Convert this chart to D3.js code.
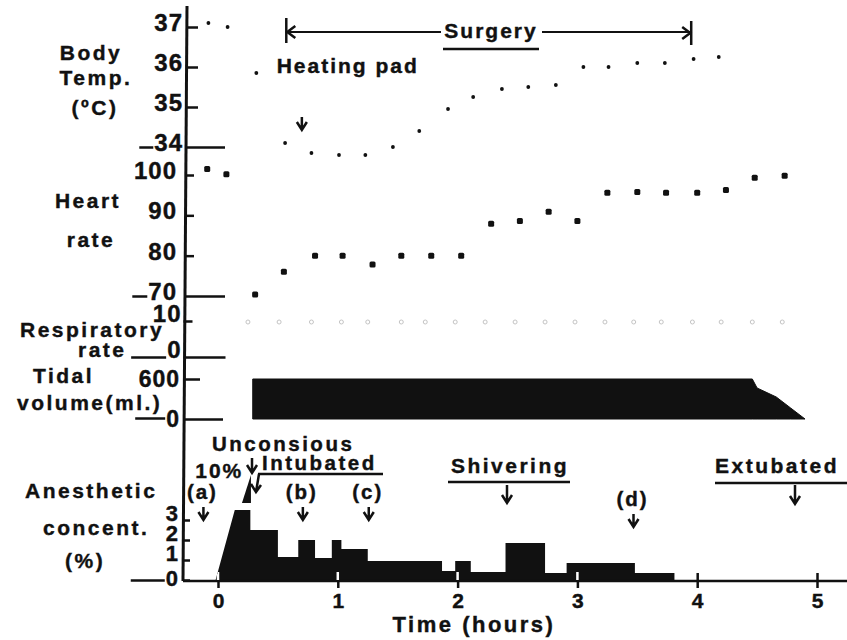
<!DOCTYPE html>
<html>
<head>
<meta charset="utf-8">
<script src="https://cdn.jsdelivr.net/npm/d3@7"></script>
<style>
body { margin: 0; background: #fff; }
svg text { font-family: "Liberation Sans", Arial, Helvetica, sans-serif; font-weight: bold; fill: #111; stroke: #111; stroke-width: 0.4px; }
</style>
</head>
<body>
<div id="chart"></div>
<script>
// values, time in hours after induction
var tempTimes = [-0.08, 0.08, 0.32, 0.56, 0.78, 1.01, 1.23, 1.46, 1.68, 1.92, 2.13, 2.37, 2.59, 2.82, 3.05, 3.26, 3.5, 3.73, 3.97, 4.18];
var tempValues = [37.1, 37.0, 35.85, 34.1, 33.85, 33.8, 33.8, 34.0, 34.4, 34.95, 35.25, 35.45, 35.5, 35.55, 36.0, 36.0, 36.1, 36.1, 36.2, 36.25];

var heartTimes = [-0.09, 0.07, 0.31, 0.55, 0.81, 1.04, 1.29, 1.53, 1.78, 2.03, 2.28, 2.52, 2.76, 3.0, 3.25, 3.5, 3.74, 4.0, 4.24, 4.48, 4.73];
var heartValues = [101.5, 100.2, 70.4, 76, 80, 80, 77.8, 80, 80, 80, 87.9, 88.6, 90.9, 88.6, 95.6, 95.8, 95.6, 95.6, 96.3, 99.3, 99.8];

var respTimes = [0.25, 0.51, 0.78, 1.03, 1.25, 1.53, 1.73, 1.98, 2.23, 2.48, 2.73, 2.98, 3.23, 3.47, 3.7, 3.96, 4.2, 4.46, 4.71];
var respValues = [10, 10, 10, 10, 10, 10, 10, 10, 10, 10, 10, 10, 10, 10, 10, 10, 10, 10, 10];

var tidalTimes = [0.29, 4.46, 4.5, 4.66, 4.78, 4.9];
var tidalValues = [600, 600, 465, 330, 165, 0];

var anesStart = -0.02;
var anesStepTimes = [0.14, 0.27, 0.5, 0.67, 0.81, 0.95, 1.03, 1.25, 1.87, 1.98, 2.11, 2.4, 2.73, 2.91, 3.48, 3.81];
var anesStepValues = [3.5, 2.5, 1.15, 2.0, 1.1, 2.0, 1.55, 0.95, 0.45, 0.95, 0.4, 1.85, 0.35, 0.85, 0.35];
// the 10% spike, drawn off scale above the plateau
var spikeTimes = [0.2, 0.275, 0.275];
var spikeValues = [3.85, 5.25, 3.85];

var hourTicks = [0, 1, 2, 3, 4, 5];
var tempTicks = [34, 35, 36, 37];
var heartTicks = [70, 80, 90, 100];
var respTicks = [0, 10];
var tidalTicks = [0, 600];
var anesTicks = [0, 1, 2, 3];

var surgeryTimes = [0.57, 3.95];
var eventNames = ["(a)", "(b)", "(c)", "(d)"];
var eventTimes = [-0.13, 0.7, 1.25, 3.46];

const WIDTH = 847;
const HEIGHT = 640;
const BASE_Y = 581;

var svg = d3.select("#chart").append("svg")
    .attr("width", WIDTH)
    .attr("height", HEIGHT);
svg.append("rect").attr("width", WIDTH).attr("height", HEIGHT).attr("fill", "#fff");

var x = d3.scaleLinear().domain([0, 5]).range([218, 817]);
var yTemp = d3.scaleLinear().domain([34, 37]).range([147, 27]);
var yHeart = d3.scaleLinear().domain([70, 100]).range([296, 175]);
var yResp = d3.scaleLinear().domain([0, 10]).range([357, 321]);
var yTidal = d3.scaleLinear().domain([0, 600]).range([419, 379]);
var yAnes = d3.scaleLinear().domain([0, 3]).range([580, 520]);

function zip(ts, vs) {
    return ts.map(function(t, i) { return {t: t, v: vs[i]}; });
}

function text(str, xp, yp, opts) {
    opts = opts || {};
    return svg.append("text")
        .attr("x", xp).attr("y", yp)
        .attr("text-anchor", opts.anchor || "start")
        .attr("font-size", opts.size || 21)
        .attr("letter-spacing", opts.ls == null ? 2.5 : opts.ls)
        .text(str);
}

function line(x1, y1, x2, y2, w) {
    return svg.append("line")
        .attr("x1", x1).attr("y1", y1).attr("x2", x2).attr("y2", y2)
        .attr("stroke", "#111").attr("stroke-width", w || 2.5);
}

function arrowDown(xp, y1, y2) {
    svg.append("path")
        .attr("d", "M" + xp + "," + y1 + "V" + y2 + "M" + (xp - 5) + "," + (y2 - 8) + "L" + xp + "," + y2 + "L" + (xp + 5) + "," + (y2 - 8))
        .attr("fill", "none").attr("stroke", "#111").attr("stroke-width", 2.5);
}

// one left axis per panel, labels left of the line, ticks to the right
function panelAxis(scale, ticks, o) {
    var g = svg.append("g").attr("transform", "translate(" + o.axisX + ",0)");
    g.call(d3.axisLeft(scale).tickValues(ticks).tickSize(-o.tick).tickPadding(o.pad).tickFormat(d3.format("d")));
    g.select(".domain").remove();
    g.selectAll(".tick line").attr("stroke", "#111").attr("stroke-width", 2.5);
    g.selectAll(".tick text")
        .attr("font-size", o.size)
        .attr("letter-spacing", 1)
        .attr("dy", function(d) { return d === ticks[0] && o.dy0 ? o.dy0 : o.dy; });
    var bottom = g.selectAll(".tick").filter(function(d) { return d === ticks[0]; });
    if (o.long) bottom.select("line").attr("x2", o.long);
    // the dash that separates the panels on the label side
    var bb = bottom.select("text").node().getBBox();
    bottom.append("line")
        .attr("x1", bb.x - o.dash).attr("x2", bb.x - 1)
        .attr("y1", o.dashY || 0).attr("y2", o.dashY || 0)
        .attr("stroke", "#111").attr("stroke-width", 2.5);
}

panelAxis(yTemp, tempTicks, {axisX: 187, tick: 11, long: 38, pad: 4, size: 24, dy: "0.14em", dash: 15});
panelAxis(yHeart, heartTicks, {axisX: 186, tick: 8, long: 39, pad: 9, size: 24, dy: "0.14em", dash: 16});
panelAxis(yResp, respTicks, {axisX: 183.5, tick: 9, long: 42, pad: 2, size: 24, dy: "0em", dash: 36});
panelAxis(yTidal, tidalTicks, {axisX: 183, tick: 17, long: 40, pad: 3, size: 23, dy: "0.32em", dash: 31, dashY: -1});
panelAxis(yAnes, anesTicks, {axisX: 183, tick: 7, long: 0, pad: 4, size: 22, dy: "0em", dy0: "0.25em", dash: 35});

// main vertical axis
line(187, 6, 183, BASE_Y, 3);

// panel labels
text("Body", 91, 60, {anchor: "middle"});
text("Temp.", 96, 85, {anchor: "middle"});
text("(ºC)", 95, 115, {anchor: "middle"});
text("Heart", 88, 208, {anchor: "middle"});
text("rate", 91, 247, {anchor: "middle"});
text("Respiratory", 20, 337);
text("rate", 78, 357);
text("Tidal", 33, 383);
text("volume(ml.)", 17, 410);
text("Anesthetic", 25, 498);
text("concent.", 43, 535);
text("(%)", 65, 568);

// body temperature
svg.append("g").selectAll("circle")
    .data(zip(tempTimes, tempValues))
    .join("circle")
    .attr("cx", function(d) { return x(d.t); })
    .attr("cy", function(d) { return yTemp(d.v); })
    .attr("r", 1.9)
    .attr("fill", "#111");

// heart rate
svg.append("g").selectAll("rect")
    .data(zip(heartTimes, heartValues))
    .join("rect")
    .attr("x", function(d) { return x(d.t) - 3; })
    .attr("y", function(d) { return yHeart(d.v) - 3; })
    .attr("width", 6).attr("height", 6).attr("rx", 1.5)
    .attr("fill", "#111");

// respiratory rate, faint open circles in the scan
svg.append("g").selectAll("circle")
    .data(zip(respTimes, respValues))
    .join("circle")
    .attr("cx", function(d) { return x(d.t); })
    .attr("cy", function(d) { return yResp(d.v) + 1; })
    .attr("r", 2)
    .attr("fill", "none")
    .attr("stroke", "#c4c4c4")
    .attr("stroke-width", 1);

// tidal volume
var tidalArea = d3.area()
    .x(function(d) { return x(d.t); })
    .y0(yTidal(0))
    .y1(function(d) { return yTidal(d.v); });
svg.append("path")
    .datum(zip(tidalTimes, tidalValues))
    .attr("d", tidalArea)
    .attr("fill", "#111")
    .attr("stroke", "#111").attr("stroke-width", 1).attr("stroke-linejoin", "round");

// anesthetic concentration: ramp then steps
var anesPts = [{t: anesStart, v: 0}];
anesStepValues.forEach(function(v, i) {
    anesPts.push({t: anesStepTimes[i], v: v});
    anesPts.push({t: anesStepTimes[i + 1], v: v});
});
anesPts.push({t: anesStepTimes[anesStepTimes.length - 1], v: 0});
var anesArea = d3.area()
    .x(function(d) { return x(d.t); })
    .y0(yAnes(0))
    .y1(function(d) { return yAnes(d.v); });
svg.append("defs").append("clipPath").attr("id", "anesClip")
    .append("path").datum(anesPts).attr("d", anesArea);
svg.append("path")
    .datum(anesPts)
    .attr("d", anesArea)
    .attr("fill", "#111");
svg.append("path")
    .datum(zip(spikeTimes, spikeValues))
    .attr("d", d3.line().x(function(d) { return x(d.t); }).y(function(d) { return yAnes(d.v); }))
    .attr("fill", "#111");

// time axis
line(183, BASE_Y, WIDTH, BASE_Y, 2.5);
var xg = svg.append("g").attr("transform", "translate(0," + BASE_Y + ")")
    .call(d3.axisBottom(x).tickValues(hourTicks).tickSize(7).tickPadding(5).tickFormat(d3.format("d")));
xg.select(".domain").remove();
xg.selectAll(".tick line").attr("y1", -8).attr("stroke", "#111").attr("stroke-width", 2.5);
xg.selectAll(".tick text").attr("font-size", 21);
// tick marks show white where they cross the filled area
svg.append("g").attr("clip-path", "url(#anesClip)")
    .selectAll("line")
    .data(hourTicks)
    .join("line")
    .attr("x1", function(d) { return x(d); }).attr("x2", function(d) { return x(d); })
    .attr("y1", BASE_Y - 9).attr("y2", BASE_Y - 1)
    .attr("stroke", "#fff").attr("stroke-width", 2.5);
text("Time (hours)", 474, 632, {anchor: "middle", size: 22});

// surgery bracket
var sx0 = x(surgeryTimes[0]), sx1 = x(surgeryTimes[1]);
line(sx0, 18, sx0, 43);
line(sx1, 21, sx1, 45);
line(sx0, 32, 441, 32, 2);
line(542, 32, sx1, 32, 2);
svg.append("path")
    .attr("d", "M" + (sx0 + 9) + ",26L" + (sx0 + 1) + ",32L" + (sx0 + 9) + ",38M" + (sx1 - 9) + ",27L" + (sx1 - 1) + ",33L" + (sx1 - 9) + ",39")
    .attr("fill", "none").attr("stroke", "#111").attr("stroke-width", 2.5);
text("Surgery", 491, 38, {anchor: "middle", ls: 2});
line(443, 49, 539, 49, 2.5);

text("Heating pad", x(0.49), 73, {ls: 2});
arrowDown(x(0.7), 117, 130);

// anesthesia events
text("Unconsious", x(-0.05), 451, {size: 20.5});
arrowDown(252, 458, 473);
text("10%", x(-0.19), 478, {size: 21, ls: 2});
text("Intubated", 262, 470, {size: 20.5});
line(258, 474, 383, 474, 2.5);
svg.append("path")
    .attr("d", "M259,474L256,492M251,484L256,492L261,485")
    .attr("fill", "none").attr("stroke", "#111").attr("stroke-width", 2.5);

eventNames.forEach(function(name, i) {
    var cx = x(eventTimes[i]);
    var off = name === "(d)" ? 7 : 0;
    text(name, cx, 499 + off, {anchor: "middle", ls: 2, size: 20.5});
    arrowDown(cx + 1, 507 + off, 520 + off);
});

text("Shivering", 510, 473, {anchor: "middle"});
line(448, 482, 570, 482, 2.5);
arrowDown(507, 485, 503);

text("Extubated", 715, 473);
line(715, 483, WIDTH, 483, 2.5);
arrowDown(795, 485, 504);
</script>
</body>
</html>
